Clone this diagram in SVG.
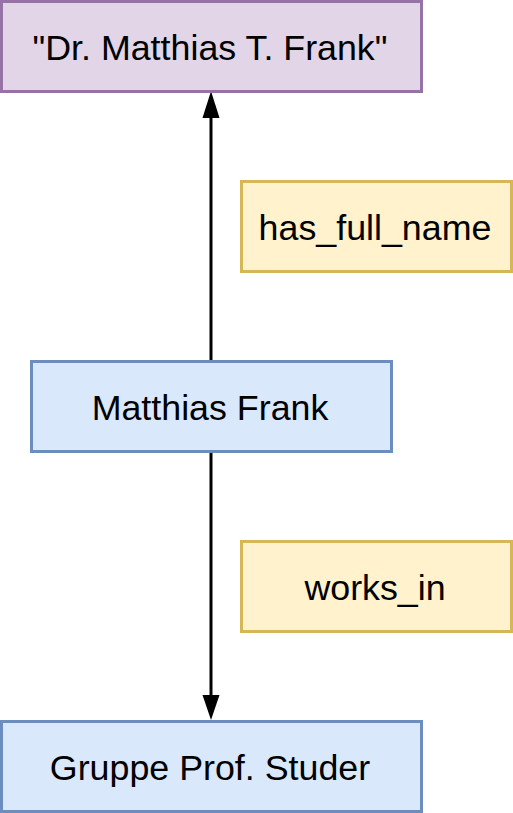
<svg xmlns="http://www.w3.org/2000/svg" width="513" height="813" viewBox="0 0 513 813">
<defs>
<style>
.lbl{font-family:"Liberation Sans",Arial,Helvetica,sans-serif;font-size:35.8px;fill:#000;text-anchor:middle}
.purple{fill:#e1d5e7;stroke:#9673a6;stroke-width:3}
.blue{fill:#dae8fc;stroke:#6c8ebf;stroke-width:3}
.yellow{fill:#fff2cc;stroke:#d6b656;stroke-width:3}
.edge{fill:none;stroke:#000;stroke-width:3}
.head{fill:#000}
</style>
</defs>
<g id="edges">
<line class="edge" x1="211" y1="361" x2="211" y2="115"/>
<path class="head" d="M211,91 L219.5,118 L202.5,118 Z"/>
<line class="edge" x1="211" y1="451" x2="211" y2="697"/>
<path class="head" d="M211,720 L219.5,695 L202.5,695 Z"/>
</g>
<g id="node-fullname">
<rect class="purple" x="1.5" y="1.5" width="420" height="90"/>
<text class="lbl" x="210" y="59.5">"Dr. Matthias T. Frank"</text>
</g>
<g id="label-has_full_name">
<rect class="yellow" x="241.5" y="181.5" width="270" height="90"/>
<text class="lbl" x="375" y="240">has_full_name</text>
</g>
<g id="node-matthias">
<rect class="blue" x="31.5" y="361.5" width="360" height="90"/>
<text class="lbl" x="210" y="420">Matthias Frank</text>
</g>
<g id="label-works_in">
<rect class="yellow" x="241.5" y="541.5" width="270" height="90"/>
<text class="lbl" x="375" y="600">works_in</text>
</g>
<g id="node-gruppe">
<rect class="blue" x="1.5" y="721.5" width="420" height="90"/>
<text class="lbl" x="210" y="779.5">Gruppe Prof. Studer</text>
</g>
</svg>
